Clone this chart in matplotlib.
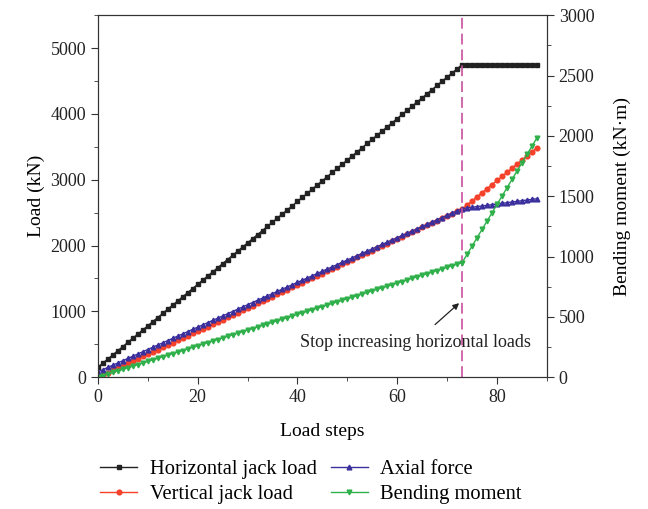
import matplotlib
matplotlib.use('Agg')
import matplotlib.pyplot as plt
from matplotlib.ticker import MultipleLocator

plt.rcParams['font.family'] = ['Liberation Serif', 'DejaVu Serif']
plt.rcParams['font.size'] = 13

steps = list(range(89))

horizontal_load = [
    150, 213, 276, 339, 402, 465, 528, 591, 654, 717,
    780, 843, 906, 969, 1032, 1095, 1158, 1221, 1284, 1347,
    1410, 1473, 1536, 1599, 1662, 1725, 1788, 1851, 1914, 1977,
    2040, 2103, 2166, 2229, 2292, 2355, 2418, 2481, 2544, 2607,
    2670, 2733, 2796, 2859, 2922, 2985, 3048, 3111, 3174, 3237,
    3300, 3363, 3426, 3489, 3552, 3615, 3678, 3741, 3804, 3867,
    3930, 3993, 4056, 4119, 4182, 4245, 4308, 4371, 4434, 4497,
    4560, 4623, 4686, 4749, 4749, 4749, 4749, 4749, 4749, 4749,
    4749, 4749, 4749, 4749, 4749, 4749, 4749, 4749, 4749,
]
vertical_load = [
    0, 35, 70, 105, 140, 175, 210, 245, 280, 315,
    350, 385, 420, 455, 490, 525, 560, 595, 630, 665,
    700, 735, 770, 805, 840, 875, 910, 945, 980, 1015,
    1050, 1085, 1120, 1155, 1190, 1225, 1260, 1295, 1330, 1365,
    1400, 1435, 1470, 1505, 1540, 1575, 1610, 1645, 1680, 1715,
    1750, 1785, 1820, 1855, 1890, 1925, 1960, 1995, 2030, 2065,
    2100, 2135, 2170, 2205, 2240, 2275, 2310, 2345, 2380, 2415,
    2450, 2485, 2520, 2555, 2617, 2679, 2741, 2803, 2865, 2927,
    2989, 3051, 3113, 3175, 3237, 3299, 3361, 3423, 3485,
]
axial_force = [
    80, 114, 148, 182, 216, 250, 284, 318, 352, 386,
    420, 454, 488, 522, 556, 590, 624, 658, 692, 726,
    760, 794, 828, 862, 896, 930, 964, 998, 1032, 1066,
    1100, 1134, 1168, 1202, 1236, 1270, 1304, 1338, 1372, 1406,
    1440, 1474, 1508, 1542, 1576, 1610, 1644, 1678, 1712, 1746,
    1780, 1814, 1848, 1882, 1916, 1950, 1984, 2018, 2052, 2086,
    2120, 2154, 2188, 2222, 2256, 2290, 2324, 2358, 2392, 2426,
    2460, 2494, 2528, 2562, 2572, 2582, 2592, 2602, 2612, 2622,
    2632, 2642, 2652, 2662, 2672, 2682, 2692, 2702, 2712,
]
bending_moment = [
    0, 13, 26, 39, 52, 65, 78, 91, 104, 117,
    130, 143, 156, 169, 182, 195, 208, 221, 234, 247,
    260, 273, 286, 299, 312, 325, 338, 351, 364, 377,
    390, 403, 416, 429, 442, 455, 468, 481, 494, 507,
    520, 533, 546, 559, 572, 585, 598, 611, 624, 637,
    650, 663, 676, 689, 702, 715, 728, 741, 754, 767,
    780, 793, 806, 819, 832, 845, 858, 871, 884, 897,
    910, 923, 936, 949, 1018, 1087, 1156, 1225, 1294, 1363,
    1432, 1501, 1570, 1639, 1708, 1777, 1846, 1915, 1984,
]
stop_step = 73

fig = plt.figure(figsize=(6.48, 5.09), dpi=100)
ax = fig.add_axes([0.151, 0.259, 0.693, 0.711])
ax2 = ax.twinx()

mk = dict(markersize=3.4, linewidth=1.0)
l1, = ax.plot(steps, horizontal_load, color='#222222', marker='s', label='Horizontal jack load', **mk)
l2, = ax.plot(steps, vertical_load, color='#f5402a', marker='o', label='Vertical jack load', **mk)
l3, = ax.plot(steps, axial_force, color='#3a2f9c', marker='^', label='Axial force', **mk)
l4, = ax2.plot(steps, bending_moment, color='#2fb04a', marker='v', label='Bending moment', **mk)

ax.axvline(stop_step, color='#c8509c', linewidth=1.2, dashes=(6.5, 3))

ax.annotate('Stop increasing horizontal loads', xy=(72.4, 1125), xytext=(63.6, 530),
            ha='center', va='center', fontsize=13, color='#222222',
            arrowprops=dict(arrowstyle='-|>', color='#222222', lw=0.9,
                            mutation_scale=9, shrinkA=7, shrinkB=0))

ax.set_xlim(0, 90)
ax.set_ylim(0, 5500)
ax2.set_ylim(0, 3000)
ax.xaxis.set_major_locator(MultipleLocator(20))
ax.xaxis.set_minor_locator(MultipleLocator(10))
ax.yaxis.set_major_locator(MultipleLocator(1000))
ax.yaxis.set_minor_locator(MultipleLocator(500))
ax2.yaxis.set_major_locator(MultipleLocator(500))
ax2.yaxis.set_minor_locator(MultipleLocator(250))

for a in (ax, ax2):
    a.tick_params(which='both', direction='out', colors='#333333', labelcolor='#222222')
    a.tick_params(which='major', length=5, labelsize=13)
    a.tick_params(which='minor', length=3)
    for s in a.spines.values():
        s.set_color('#333333')

ax.set_xlabel('Load steps', fontsize=14, labelpad=12)
ax.set_ylabel('Load (kN)', fontsize=14, labelpad=4)
ax2.set_ylabel('Bending moment (kN·m)', fontsize=14, labelpad=14)

fig.legend(handles=[l1, l2, l3, l4], loc='center', bbox_to_anchor=(0.48, 0.053),
           ncol=2, frameon=False, fontsize=14.8, handlelength=1.8,
           columnspacing=0.7, handletextpad=0.6, labelspacing=0.25)

fig.savefig('out.png', dpi=100)
